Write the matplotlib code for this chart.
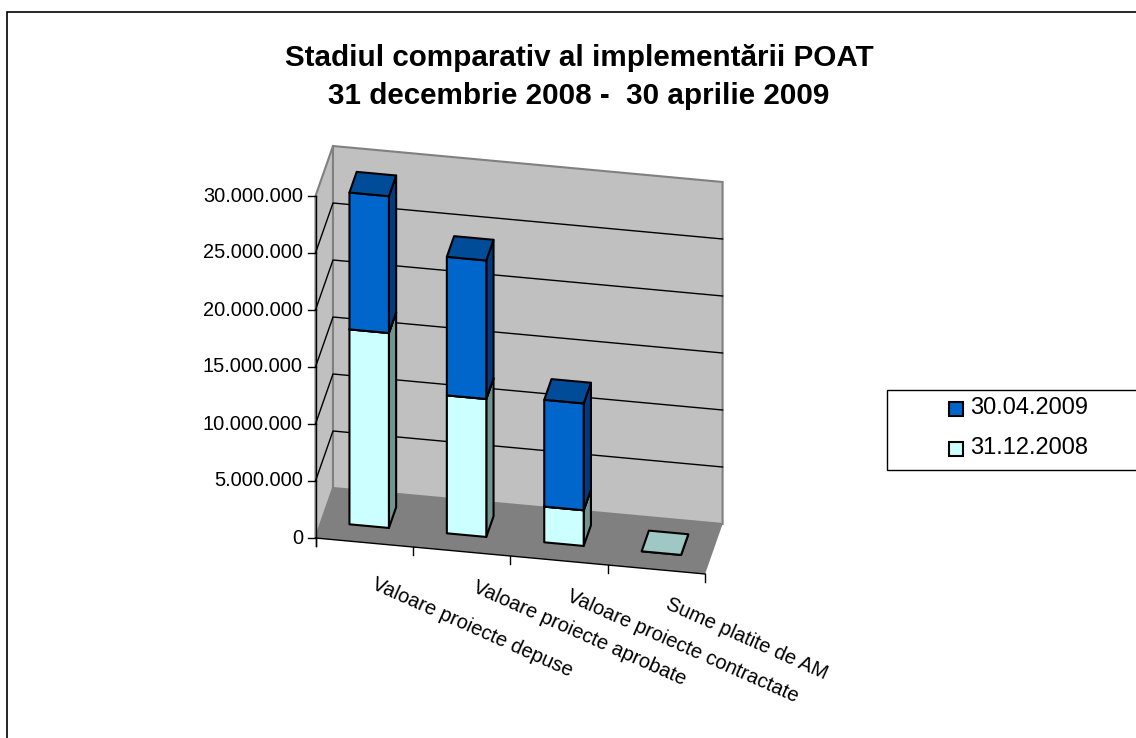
"""
Stacked 3D-look column chart (Excel style), drawn with an oblique projection.
"""

import matplotlib
matplotlib.use('Agg')
import matplotlib.pyplot as plt
from matplotlib.patches import Polygon, Rectangle

plt.rcParams['font.family'] = ['Liberation Sans', 'DejaVu Sans']

title_lines = ['Stadiul comparativ al implementării POAT', '31 decembrie 2008 -  30 aprilie 2009']
categories = ['Valoare proiecte depuse', 'Valoare proiecte aprobate',
              'Valoare proiecte contractate', 'Sume platite de AM']
dec_2008 = [17100000, 12100000, 3130000, 0]
apr_2009 = [12000000, 12150000, 9370000, 0]
series_names = ['30.04.2009', '31.12.2008']
y_ticks = [0, 5000000, 10000000, 15000000, 20000000, 25000000, 30000000]
y_max = 30000000


def fmt(v):
    return f'{v:,}'.replace(',', '.')


# u = category position, v = value, w = depth (0 front, 1 back); gives pixels
def proj(u, v, w):
    x = 315.5 + 97.4 * u + 17.5 * w
    y = 538 + 9.0 * u - 50 * w - v * 342 / y_max
    return (x, y)


fig = plt.figure(figsize=(11.36, 7.38), dpi=100)
ax = fig.add_axes([0, 0, 1, 1])
ax.set_xlim(0, 1136)
ax.set_ylim(738, 0)
ax.axis('off')

# chart border
ax.add_patch(Rectangle((7, 12), 1140, 740, fc='white', ec='black', lw=1.2, zorder=0))

n = len(categories)

# walls and floor
wall_edge = '#808080'
ax.add_patch(Polygon([proj(0, 0, 0), proj(0, 0, 1), proj(0, y_max, 1), proj(0, y_max, 0)],
                     fc='#C0C0C0', ec=wall_edge, lw=1.5, zorder=1))
ax.add_patch(Polygon([proj(0, 0, 1), proj(n, 0, 1), proj(n, y_max, 1), proj(0, y_max, 1)],
                     fc='#C0C0C0', ec=wall_edge, lw=1.5, zorder=1))
ax.add_patch(Polygon([proj(0, 0, 0), proj(n, 0, 0), proj(n, 0, 1), proj(0, 0, 1)],
                     fc='#808080', ec='none', zorder=1))

# gridlines on both walls
for t in y_ticks[1:-1]:
    pts = [proj(0, t, 0), proj(0, t, 1), proj(n, t, 1)]
    ax.plot([p[0] for p in pts], [p[1] for p in pts], color='black', lw=1, zorder=2)

# value axis, ticks and labels
x0, y0 = proj(0, 0, 0)
x1, y1 = proj(0, y_max, 0)
ax.plot([x0, x1], [y0 + 8, y1], color='black', lw=1, zorder=3)
for t in y_ticks:
    x, y = proj(0, t, 0)
    ax.plot([x - 8, x], [y, y], color='black', lw=1, zorder=3)
    ax.text(x - 12.5, y, fmt(t), ha='right', va='center', fontsize=14.4, color='black')

# category axis and ticks
xa, ya = proj(n, 0, 0)
ax.plot([x0, xa], [y0, ya], color='black', lw=1, zorder=3)
for i in range(n + 1):
    x, y = proj(i, 0, 0)
    ax.plot([x, x], [y, y + 8], color='black', lw=1, zorder=3)

# category labels, placed under each category
label_dx = [13, 16, 13, 14]
label_dy = [32, 26, 26, 25]
for i, name in enumerate(categories):
    x, y = proj(i + 0.5, 0, 0)
    ax.text(x + label_dx[i], y + label_dy[i], name, rotation=-24, rotation_mode='anchor',
            ha='left', va='top', fontsize=14.5, color='black')


def box(i, v0, v1, front, side, top, zorder):
    u0, u1 = i + 0.29, i + 0.695
    w0, w1 = 0.326, 0.74
    ax.add_patch(Polygon([proj(u1, v0, w0), proj(u1, v0, w1), proj(u1, v1, w1), proj(u1, v1, w0)],
                         fc=side, ec='black', lw=1.5, joinstyle='round', zorder=zorder))
    ax.add_patch(Polygon([proj(u0, v0, w0), proj(u1, v0, w0), proj(u1, v1, w0), proj(u0, v1, w0)],
                         fc=front, ec='black', lw=1.5, joinstyle='round', zorder=zorder))
    ax.add_patch(Polygon([proj(u0, v1, w0), proj(u1, v1, w0), proj(u1, v1, w1), proj(u0, v1, w1)],
                         fc=top, ec='black', lw=1.5, joinstyle='round', zorder=zorder))


for i in range(n):
    z = 4 + i
    if dec_2008[i] + apr_2009[i] == 0:
        box(i, 0, 0, '#CCFFFF', '#7FA3A0', '#9FC7C4', z)
        continue
    box(i, 0, dec_2008[i], '#CCFFFF', '#73938F', '#9FC7C4', z)
    box(i, dec_2008[i], dec_2008[i] + apr_2009[i], '#0066CC', '#003A80', '#004C99', z)

# title
ax.text(579, 58, title_lines[0], ha='center', va='center', fontsize=21.3, fontweight='bold')
ax.text(579, 96, title_lines[1], ha='center', va='center', fontsize=21.3, fontweight='bold')

# legend
ax.add_patch(Rectangle((886.5, 389.5), 300, 80.5, fc='white', ec='black', lw=1, zorder=8))
colors = ['#0066CC', '#CCFFFF']
for k, name in enumerate(series_names):
    yy = 409 + 40 * k
    ax.add_patch(Rectangle((948.5, yy - 7), 14, 14, fc=colors[k], ec='black', lw=1.5, zorder=9))
    ax.text(970, yy - 0.5, name, ha='left', va='center', fontsize=17, zorder=9)

fig.savefig('out.png', dpi=100)
